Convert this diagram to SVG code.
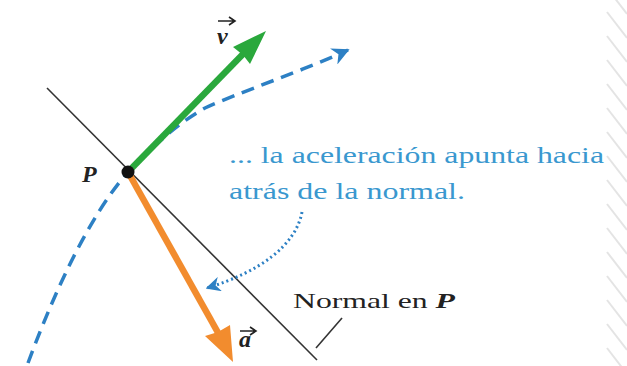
<svg xmlns="http://www.w3.org/2000/svg" width="627" height="366" viewBox="0 0 627 366">
<defs>
<style>
.note{font-family:"Liberation Serif","Times New Roman",serif;font-size:24px;fill:#3a98cf;}
.blk{font-family:"Liberation Serif","Times New Roman",serif;font-size:21px;fill:#222;}
.vec{font-family:"Liberation Serif","Times New Roman",serif;font-size:24px;font-weight:bold;font-style:italic;fill:#222;}
.hatch{stroke:#e4e4e4;stroke-width:2;}
</style>
<marker id="hdash" viewBox="0 0 10 10" refX="9" refY="5" markerWidth="5" markerHeight="5" orient="auto" markerUnits="strokeWidth">
<path d="M0,0 L10,5 L0,10 L3,5 Z" fill="#2d80c4"/>
</marker>
<marker id="hdot" viewBox="0 0 10 10" refX="9" refY="5" markerWidth="5" markerHeight="5" orient="auto" markerUnits="strokeWidth">
<path d="M0,0 L10,5 L0,10 L3,5 Z" fill="#2d80c4"/>
</marker>
</defs>
<rect width="627" height="366" fill="#ffffff"/>
<g id="hatching">
<line class="hatch" x1="607" y1="-12" x2="627" y2="14"/>
<line class="hatch" x1="607" y1="12" x2="627" y2="38"/>
<line class="hatch" x1="607" y1="36" x2="627" y2="62"/>
<line class="hatch" x1="607" y1="60" x2="627" y2="86"/>
<line class="hatch" x1="607" y1="84" x2="627" y2="110"/>
<line class="hatch" x1="607" y1="108" x2="627" y2="134"/>
<line class="hatch" x1="607" y1="132" x2="627" y2="158"/>
<line class="hatch" x1="607" y1="156" x2="627" y2="182"/>
<line class="hatch" x1="607" y1="180" x2="627" y2="206"/>
<line class="hatch" x1="607" y1="204" x2="627" y2="230"/>
<line class="hatch" x1="607" y1="228" x2="627" y2="254"/>
<line class="hatch" x1="607" y1="252" x2="627" y2="278"/>
<line class="hatch" x1="607" y1="276" x2="627" y2="302"/>
<line class="hatch" x1="607" y1="300" x2="627" y2="326"/>
<line class="hatch" x1="607" y1="324" x2="627" y2="350"/>
<line class="hatch" x1="607" y1="348" x2="627" y2="374"/>
</g>
<g id="connectors">
<line id="normal-line" x1="47" y1="88" x2="317" y2="360" stroke="#333" stroke-width="1.6"/>
<line id="normal-tick" x1="316" y1="348" x2="342" y2="318" stroke="#333" stroke-width="1.6"/>
<path id="trajectory" d="M28,363 C55,290 90,215 128,172 C155,145 175,125 205,108 C240,92 300,72 348,50" fill="none" stroke="#2d80c4" stroke-width="3.5" stroke-dasharray="13,8" marker-end="url(#hdash)"/>
<path id="dotted-arrow" d="M302,212 C296,245 260,272 207,288" fill="none" stroke="#2d80c4" stroke-width="3" stroke-dasharray="2,3" marker-end="url(#hdot)"/>
</g>
<g id="velocity">
<line x1="128" y1="172" x2="245" y2="52" stroke="#2aa83c" stroke-width="6.5"/>
<path d="M266,31 L233,47 L243,55 L250,64 Z" fill="#2aa83c"/>
</g>
<g id="acceleration">
<line x1="128" y1="172" x2="221" y2="338" stroke="#f28c2e" stroke-width="6.5"/>
<path d="M233,362 L205,336 L218,332 L230,325 Z" fill="#f28c2e"/>
</g>
<g id="point-P">
<circle cx="128" cy="172" r="6.5" fill="#111"/>
<text class="vec" x="82" y="182">P</text>
</g>
<g id="label-v">
<text class="vec" x="217" y="44">v</text>
<path d="M218,21 L234,21 M229,17 L235,21 L229,25" fill="none" stroke="#222" stroke-width="1.6"/>
</g>
<g id="label-a">
<text class="vec" x="239" y="347">a</text>
<path d="M240,331 L255,331 M250,327 L256,331 L250,335" fill="none" stroke="#222" stroke-width="1.6"/>
</g>
<g id="note">
<text class="note" x="229" y="163" textLength="375" lengthAdjust="spacingAndGlyphs">... la aceleración apunta hacia</text>
<text class="note" x="229" y="199" textLength="236" lengthAdjust="spacingAndGlyphs">atrás de la normal.</text>
</g>
<g id="label-normal">
<text class="blk" x="293" y="308" textLength="162" lengthAdjust="spacingAndGlyphs">Normal en <tspan font-style="italic" font-weight="bold">P</tspan></text>
</g>
</svg>
